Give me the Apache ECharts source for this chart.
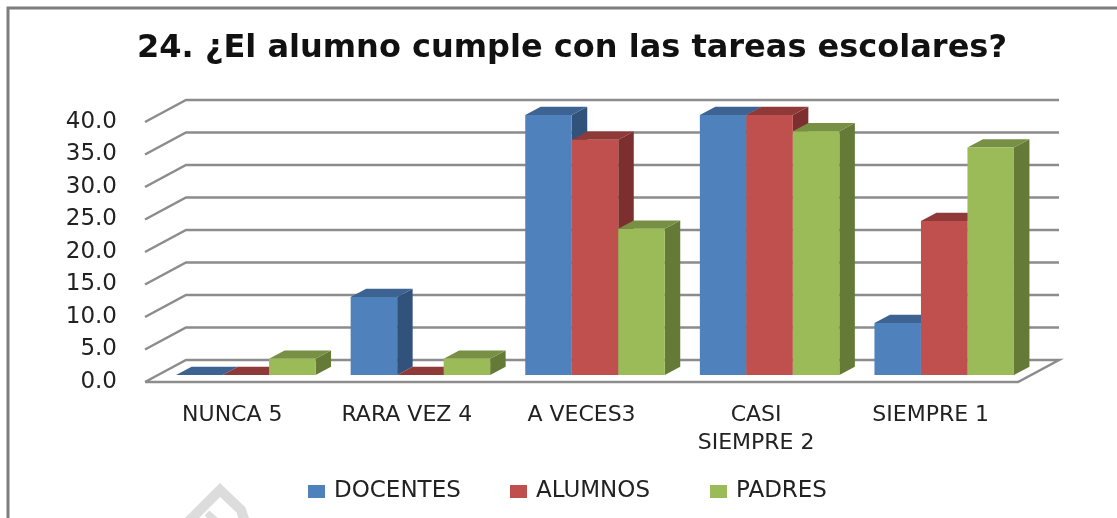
<!DOCTYPE html>
<html>
<head>
<meta charset="utf-8">
<style>
  html, body { margin: 0; padding: 0; background: #fff; }
  #chart { width: 1117px; height: 518px; }
</style>
<script src="https://cdn.jsdelivr.net/npm/echarts@6/dist/echarts.min.js"></script>
</head>
<body>
<div id="chart"></div>
<script>
const categories = ["NUNCA 5", "RARA VEZ 4", "A VECES3", "CASI\nSIEMPRE 2", "SIEMPRE 1"];
const docentes = [0, 12, 40, 40, 8];
const alumnos = [0, 0, 36.2, 40, 23.7];
const padres = [2.5, 2.5, 22.5, 37.5, 35];
const yTicks = [0, 5, 10, 15, 20, 25, 30, 35, 40];

const fontName = "DejaVu Sans";
// 3d look: how far the back wall sits from the axis plane, and the bars inside that depth
const wall = [41, -22];
const barShift = [13.5, -7];
const barDepth = [15.5, -8.3];
const barWidth = 46.5;

function shade(front, top, side, index) {
  return function (params, api) {
    const p = api.coord([api.value(0), api.value(1)]);
    const base = api.coord([api.value(0), 0]);
    const x = p[0] + barShift[0] - barWidth * 1.5 + barWidth * index;
    const yTop = p[1] + barShift[1];
    const yBase = base[1] + barShift[1];
    const dx = barDepth[0], dy = barDepth[1];
    const children = [
      { type: "polygon", shape: { points: [[x + barWidth, yTop], [x + barWidth + dx, yTop + dy], [x + barWidth + dx, yBase + dy], [x + barWidth, yBase]] }, style: { fill: side } },
      { type: "polygon", shape: { points: [[x, yTop], [x + dx, yTop + dy], [x + barWidth + dx, yTop + dy], [x + barWidth, yTop]] }, style: { fill: top } }
    ];
    if (api.value(1) > 0) {
      children.push({ type: "rect", shape: { x: x, y: yTop, width: barWidth, height: yBase - yTop }, style: { fill: front } });
    }
    return { type: "group", children: children };
  };
}

function barSeries(name, values, index, front, top, side) {
  return {
    name: name,
    type: "custom",
    clip: false,
    itemStyle: { color: front },
    encode: { x: 0, y: 1 },
    data: values.map((v, i) => [i, v]),
    renderItem: shade(front, top, side, index)
  };
}

function gridItem(params, api) {
  const y = api.coord([0, api.value(0)])[1];
  const left = params.coordSys.x;
  const right = left + params.coordSys.width;
  const line = { stroke: "#8c8c8c", lineWidth: 2.5, fill: null };
  const pts = [[left, y], [left + wall[0], y + wall[1]], [right + wall[0], y + wall[1]]];
  if (api.value(0) === 0) {
    pts.push([right, y], [left, y]);
  }
  return { type: "polyline", shape: { points: pts }, style: line };
}

const myChart = echarts.init(document.getElementById("chart"));
myChart.setOption({
  animation: false,
  backgroundColor: "#fff",
  title: {
    text: "24. ¿El alumno cumple con las tareas escolares?",
    left: 567,
    top: 44,
    textAlign: "center",
    textVerticalAlign: "middle",
    textStyle: { fontFamily: fontName, fontSize: 32, fontWeight: "bold", color: "#111" }
  },
  legend: [
    { data: ["DOCENTES"], left: 308, top: 480 },
    { data: ["ALUMNOS"], left: 510, top: 480 },
    { data: ["PADRES"], left: 710, top: 480 }
  ].map(l => Object.assign(l, {
    icon: "rect",
    itemWidth: 17,
    itemHeight: 13,
    itemGap: 0,
    padding: 0,
    textStyle: { fontFamily: fontName, fontSize: 23, color: "#222", padding: [0, 0, 0, 4] }
  })),
  grid: { left: 145, top: 122, width: 873, height: 260 },
  xAxis: {
    type: "category",
    data: categories,
    axisLine: { show: false },
    axisTick: { show: false },
    axisLabel: { interval: 0, margin: 19, fontFamily: fontName, fontSize: 22, lineHeight: 28, color: "#222" }
  },
  yAxis: {
    type: "value",
    min: 0,
    max: 40,
    interval: 5,
    axisLine: { show: false },
    axisTick: { show: false },
    splitLine: { show: false },
    axisLabel: {
      margin: 28,
      fontFamily: fontName,
      fontSize: 23,
      color: "#222",
      formatter: v => v.toFixed(1)
    }
  },
  graphic: [
    { type: "polyline", silent: true, shape: { points: [[8, 518], [8, 8], [1117, 8]] }, style: { stroke: "#7f7f7f", lineWidth: 3, fill: null } },
    { type: "polyline", silent: true, shape: { points: [[186, 524], [220, 490], [241, 510], [245, 522]] }, style: { stroke: "#dcdcdc", lineWidth: 10, fill: null } },
    { type: "polyline", silent: true, shape: { points: [[207, 513], [217, 522]] }, style: { stroke: "#dcdcdc", lineWidth: 7, fill: null } }
  ],
  series: [
    {
      type: "custom",
      clip: false,
      silent: true,
      encode: { y: 0 },
      data: yTicks.map(v => [v]),
      renderItem: gridItem
    },
    barSeries("DOCENTES", docentes, 0, "#4f81bd", "#3c6391", "#31527a"),
    barSeries("ALUMNOS", alumnos, 1, "#c0504d", "#8f3a38", "#7c2f2e"),
    barSeries("PADRES", padres, 2, "#9bbb59", "#779044", "#667a37")
  ]
});
window.addEventListener("resize", () => {
  myChart.resize();
});
</script>
</body>
</html>
